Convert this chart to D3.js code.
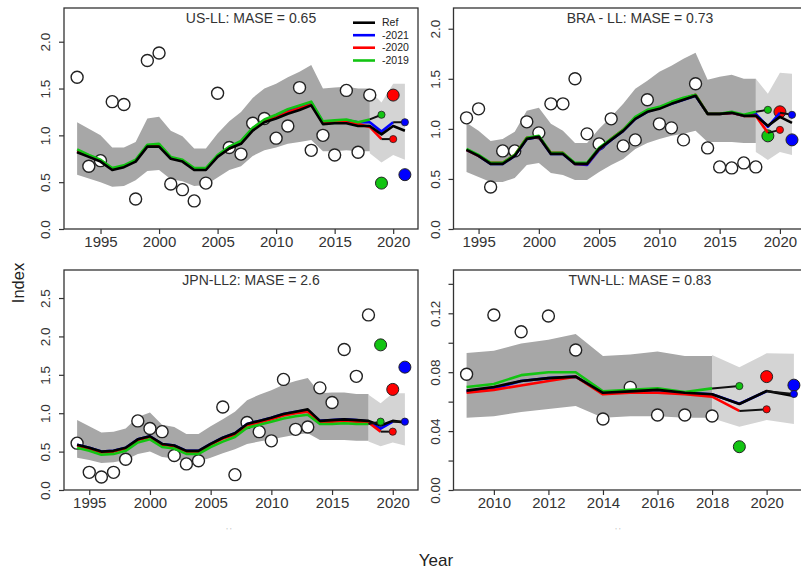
<!DOCTYPE html>
<html><head><meta charset="utf-8">
<script src="https://cdn.jsdelivr.net/npm/d3@7"></script>
<style>
body{margin:0;background:#fff}
svg{display:block}
text{font-family:"Liberation Sans",Arial,Helvetica,sans-serif;fill:#333}
</style>
</head><body>
<svg id="c" width="801" height="571"></svg>
<script>
// ---------------- DATA ----------------
const legendLabels = ["Ref", "-2021", "-2020", "-2019"];

// US-LL
const usTitle = "US-LL: MASE = 0.65";
const usYears = [1993,1994,1995,1996,1997,1998,1999,2000,2001,2002,2003,2004,2005,2006,2007,2008,2009,2010,2011,2012,2013,2014,2015,2016,2017,2018,2019,2020,2021];
const usObs   = [1.62,0.67,0.73,1.36,1.33,0.32,1.80,1.88,0.48,0.42,0.30,0.49,1.45,0.87,0.80,1.13,1.18,0.97,1.10,1.51,0.84,1.00,0.79,1.48,0.82,1.43,0.49,1.43,0.58];
const usRef   = [0.82,0.77,0.72,0.63,0.66,0.72,0.88,0.88,0.75,0.72,0.63,0.63,0.77,0.86,0.91,1.05,1.14,1.18,1.23,1.27,1.32,1.12,1.13,1.13,1.10,1.10,1.01,1.10,1.05];
const usP2021 = [0.83,0.78,0.73,0.64,0.67,0.73,0.89,0.90,0.76,0.73,0.64,0.64,0.78,0.87,0.93,1.07,1.16,1.21,1.26,1.30,1.35,1.14,1.15,1.16,1.14,1.14,1.04,1.14];
const usP2020 = [0.83,0.78,0.73,0.64,0.67,0.73,0.89,0.90,0.76,0.73,0.64,0.64,0.78,0.86,0.92,1.06,1.15,1.19,1.25,1.29,1.33,1.13,1.14,1.14,1.12,1.09,0.96];
const usP2019 = [0.85,0.79,0.74,0.65,0.68,0.74,0.90,0.91,0.77,0.74,0.65,0.65,0.79,0.88,0.94,1.08,1.17,1.22,1.28,1.32,1.36,1.15,1.16,1.17,1.14,1.17];
const usPred  = [1.14,0.96,1.22]; // predictions for 2021, 2020, 2019
const usHi    = [1.14,1.07,1.00,0.87,0.87,0.93,1.18,1.20,1.05,0.99,0.86,0.86,1.02,1.15,1.25,1.40,1.50,1.55,1.62,1.68,1.75,1.50,1.51,1.52,1.50,1.50];
const usLo    = [0.58,0.54,0.50,0.45,0.46,0.52,0.62,0.63,0.53,0.51,0.46,0.47,0.55,0.63,0.67,0.78,0.84,0.87,0.91,0.93,0.95,0.83,0.83,0.84,0.83,0.83];
const usHiL   = [1.48,1.35,1.55,1.55];
const usLoL   = [0.81,0.71,0.79,0.74];
const usYTicks = [0.0,0.5,1.0,1.5,2.0];

// BRA - LL
const braTitle = "BRA - LL: MASE = 0.73";
const braYears = [1994,1995,1996,1997,1998,1999,2000,2001,2002,2003,2004,2005,2006,2007,2008,2009,2010,2011,2012,2013,2014,2015,2016,2017,2018,2019,2020,2021];
const braObs   = [1.11,1.20,0.42,0.78,0.78,1.07,0.96,1.25,1.25,1.50,0.95,0.85,1.10,0.83,0.89,1.29,1.05,1.01,0.89,1.45,0.81,0.62,0.61,0.66,0.62,0.93,1.17,0.89];
const braRef   = [0.79,0.73,0.65,0.65,0.73,0.90,0.92,0.75,0.75,0.65,0.65,0.80,0.89,0.98,1.10,1.17,1.20,1.25,1.29,1.33,1.15,1.15,1.16,1.13,1.13,1.03,1.12,1.06];
const braP2021 = [0.79,0.73,0.65,0.65,0.73,0.90,0.92,0.75,0.75,0.65,0.64,0.79,0.89,0.98,1.10,1.17,1.21,1.25,1.29,1.33,1.15,1.15,1.16,1.13,1.15,1.02,1.16];
const braP2020 = [0.79,0.73,0.66,0.66,0.74,0.91,0.92,0.76,0.76,0.65,0.65,0.80,0.90,0.99,1.11,1.18,1.21,1.26,1.30,1.34,1.15,1.15,1.16,1.13,1.13,0.96];
const braP2019 = [0.80,0.74,0.66,0.66,0.74,0.91,0.93,0.76,0.76,0.66,0.66,0.81,0.90,0.99,1.12,1.19,1.22,1.27,1.31,1.34,1.15,1.15,1.17,1.14,1.17];
const braPred  = [1.14,0.99,1.19];
const braHi    = [1.06,0.98,0.88,0.90,0.97,1.18,1.21,1.05,0.98,0.86,0.86,1.00,1.12,1.25,1.40,1.48,1.57,1.63,1.70,1.76,1.49,1.52,1.54,1.50,1.50];
const braLo    = [0.57,0.52,0.47,0.47,0.51,0.64,0.66,0.56,0.54,0.49,0.49,0.57,0.64,0.70,0.80,0.86,0.90,0.93,0.95,0.98,0.87,0.87,0.87,0.86,0.86];
const braHiL   = [1.50,1.35,1.56,1.55];
const braLoL   = [0.77,0.69,0.77,0.74];
const braYTicks = [0.0,0.5,1.0,1.5,2.0];

// JPN-LL2
const jpnTitle = "JPN-LL2: MASE = 2.6";
const jpnYears = [1994,1995,1996,1997,1998,1999,2000,2001,2002,2003,2004,2005,2006,2007,2008,2009,2010,2011,2012,2013,2014,2015,2016,2017,2018,2019,2020,2021];
const jpnObs   = [0.61,0.23,0.17,0.23,0.40,0.90,0.80,0.76,0.45,0.34,0.38,null,1.08,0.20,0.88,0.76,0.64,1.44,0.79,0.82,1.33,1.14,1.83,1.48,2.28,1.89,1.31,1.60];
const jpnRef   = [0.59,0.55,0.50,0.51,0.55,0.66,0.70,0.60,0.58,0.51,0.51,0.60,0.68,0.74,0.86,0.90,0.94,0.99,1.02,1.05,0.90,0.91,0.92,0.91,0.90,0.84,0.90,0.88];
const jpnP2021 = [0.59,0.55,0.50,0.51,0.55,0.66,0.70,0.60,0.58,0.51,0.51,0.60,0.68,0.74,0.86,0.90,0.94,0.99,1.02,1.04,0.90,0.91,0.92,0.91,0.89,0.80,0.89];
const jpnP2020 = [0.58,0.53,0.49,0.50,0.54,0.65,0.69,0.59,0.57,0.50,0.50,0.59,0.67,0.72,0.84,0.88,0.92,0.97,1.00,1.02,0.88,0.89,0.90,0.89,0.88,0.76];
const jpnP2019 = [0.55,0.51,0.46,0.47,0.51,0.62,0.66,0.56,0.54,0.47,0.47,0.56,0.63,0.69,0.81,0.85,0.89,0.93,0.96,0.98,0.86,0.86,0.87,0.86,0.86];
const jpnPred  = [0.89,0.76,0.89];
const jpnHi    = [0.91,0.83,0.75,0.76,0.80,0.95,1.01,0.85,0.82,0.73,0.73,0.83,0.92,1.02,1.17,1.24,1.30,1.37,1.42,1.46,1.26,1.27,1.27,1.25,1.25];
const jpnLo    = [0.42,0.39,0.35,0.36,0.39,0.47,0.50,0.43,0.41,0.37,0.37,0.42,0.48,0.53,0.60,0.63,0.66,0.69,0.72,0.74,0.65,0.65,0.65,0.64,0.64];
const jpnHiL   = [1.24,1.13,1.26,1.26];
const jpnLoL   = [0.63,0.57,0.62,0.58];
const jpnYTicks = [0.0,0.5,1.0,1.5,2.0,2.5];

// TWN-LL
const twnTitle = "TWN-LL: MASE = 0.83";
const twnYears = [2009,2010,2011,2012,2013,2014,2015,2016,2017,2018,2019,2020,2021];
const twnObs   = [0.0786,0.1188,0.1075,0.1182,0.0951,0.0482,0.0697,0.0509,0.0509,0.0503,0.0294,0.0770,0.0712];
const twnRef   = [0.0675,0.0700,0.0740,0.0760,0.0770,0.0660,0.0670,0.0680,0.0660,0.0650,0.0584,0.0672,0.0638];
const twnP2021 = [0.0670,0.0690,0.0740,0.0760,0.0770,0.0660,0.0670,0.0680,0.0660,0.0650,0.0586,0.0670];
const twnP2020 = [0.0660,0.0680,0.0710,0.0740,0.0770,0.0650,0.0660,0.0660,0.0650,0.0634,0.0537];
const twnP2019 = [0.0700,0.0720,0.0780,0.0800,0.0800,0.0670,0.0680,0.0690,0.0665,0.0690];
const twnPred  = [0.0652,0.0548,0.0706];
const twnHi    = [0.0930,0.0945,0.0995,0.1020,0.1060,0.0910,0.0920,0.0940,0.0910,0.0910];
const twnLo    = [0.0490,0.0500,0.0530,0.0550,0.0570,0.0490,0.0500,0.0500,0.0490,0.0490];
const twnHiL   = [0.0917,0.0833,0.0928,0.0925];
const twnLoL   = [0.0487,0.0430,0.0475,0.0448];
const twnYTicks = [0.00,0.02,0.04,0.06,0.08,0.10,0.12,0.14];
const twnYLabels = ["0.00","","0.04","","0.08","","0.12",""];

const xTicksLong = [1995,2000,2005,2010,2015,2020];
const xTicksTWN  = [2010,2012,2014,2016,2018,2020];

// ---------------- LAYOUT ----------------
const C = {blue:"#0000ff", red:"#ff0000", green:"#12c412", black:"#000", dark:"#a7a7a7", light:"#d4d4d4"};
const panels = [
  {title:usTitle, years:usYears, obs:usObs, ref:usRef, p:[usP2021,usP2020,usP2019], pred:usPred,
   hi:usHi, lo:usLo, hiL:usHiL, loL:usLoL, yt:usYTicks, yl:usYTicks.map(d=>d.toFixed(1)), xt:xTicksLong,
   box:{l:64,r:418,t:8,b:229}, ytop:2.36, titleX:251, legend:true},
  {title:braTitle, years:braYears, obs:braObs, ref:braRef, p:[braP2021,braP2020,braP2019], pred:braPred,
   hi:braHi, lo:braLo, hiL:braHiL, loL:braLoL, yt:braYTicks, yl:braYTicks.map(d=>d.toFixed(1)), xt:xTicksLong,
   box:{l:453.5,r:805,t:8,b:229}, ytop:2.207, titleX:640},
  {title:jpnTitle, years:jpnYears, obs:jpnObs, ref:jpnRef, p:[jpnP2021,jpnP2020,jpnP2019], pred:jpnPred,
   hi:jpnHi, lo:jpnLo, hiL:jpnHiL, loL:jpnLoL, yt:jpnYTicks, yl:jpnYTicks.map(d=>d.toFixed(1)), xt:xTicksLong,
   box:{l:64,r:418,t:270,b:490}, ytop:2.865, titleX:251, artifactX:229},
  {title:twnTitle, years:twnYears, obs:twnObs, ref:twnRef, p:[twnP2021,twnP2020,twnP2019], pred:twnPred,
   hi:twnHi, lo:twnLo, hiL:twnHiL, loL:twnLoL, yt:twnYTicks, yl:twnYLabels, xt:xTicksTWN,
   box:{l:453.5,r:807,t:270,b:490}, ytop:0.1494, titleX:640, artifactX:618}
];
const peelColors = [C.blue, C.red, C.green];
const obsColors = [C.green, C.red, C.blue]; // last three observations (2019, 2020, 2021)

const svg = d3.select("#c");

panels.forEach(P => {
  const b = P.box;
  const y0 = P.years[0], y1 = P.years[P.years.length-1];
  const pad = (y1 - y0) * 0.04;
  const x = d3.scaleLinear().domain([y0 - pad, y1 + pad]).range([b.l, b.r]);
  const y = d3.scaleLinear().domain([0, P.ytop]).range([b.b, b.t]);
  const g = svg.append("g");

  // clip to box
  const cid = "clip" + Math.round(b.l) + "_" + b.t;
  svg.append("clipPath").attr("id", cid).append("rect")
    .attr("x", b.l).attr("y", b.t).attr("width", b.r - b.l).attr("height", b.b - b.t);
  const pg = g.append("g").attr("clip-path", `url(#${cid})`);

  // bands
  const nD = P.hi.length;
  const dark = P.years.slice(0, nD).map((yr,i)=>({yr, hi:P.hi[i], lo:P.lo[i]}));
  const lightYears = P.years.slice(nD - 1);
  const light = lightYears.map((yr,i)=>({yr, hi:P.hiL[i], lo:P.loL[i]}));
  const area = d3.area().x(d=>x(d.yr)).y0(d=>y(d.lo)).y1(d=>y(d.hi));
  pg.append("path").datum(light).attr("d", area).attr("fill", C.light);
  pg.append("path").datum(dark).attr("d", area).attr("fill", C.dark);

  // observations
  const nObs = P.obs.length;
  P.years.forEach((yr,i) => {
    const v = P.obs[i];
    if (v === null) return;
    const k = i - (nObs - 3);
    pg.append("circle").attr("cx", x(yr)).attr("cy", y(v)).attr("r", 6)
      .attr("fill", k >= 0 ? obsColors[k] : "#fff")
      .attr("stroke", "#222").attr("stroke-width", k >= 0 ? 1 : 1.4);
  });

  // lines
  const line = d3.line().x(d=>x(d[0])).y(d=>y(d[1]));
  const series = (arr) => arr.map((v,i)=>[P.years[i], v]);
  [0,1,2].forEach(k => {
    pg.append("path").datum(series(P.p[k])).attr("d", line)
      .attr("fill","none").attr("stroke", peelColors[k]).attr("stroke-width", 2.6).attr("stroke-linejoin","round");
  });
  pg.append("path").datum(series(P.ref)).attr("d", line)
    .attr("fill","none").attr("stroke", C.black).attr("stroke-width", 2.6).attr("stroke-linejoin","round");

  // prediction segments and points
  [0,1,2].forEach(k => {
    const arr = P.p[k];
    const n = arr.length;
    const lastYr = P.years[n-1], nextYr = P.years[n];
    pg.append("line").attr("x1", x(lastYr)).attr("y1", y(arr[n-1]))
      .attr("x2", x(nextYr)).attr("y2", y(P.pred[k]))
      .attr("stroke", "#111").attr("stroke-width", 2);
  });
  [0,1,2].forEach(k => {
    const n = P.p[k].length;
    pg.append("circle").attr("cx", x(P.years[n])).attr("cy", y(P.pred[k])).attr("r", 3.6)
      .attr("fill", peelColors[k]).attr("stroke", "#222").attr("stroke-width", 0.8);
  });

  // box
  g.append("rect").attr("x", b.l).attr("y", b.t).attr("width", b.r - b.l).attr("height", b.b - b.t)
    .attr("fill","none").attr("stroke","#333").attr("stroke-width",1.3);

  // x axis
  const xa = g.append("g").attr("transform", `translate(0,${b.b})`)
    .call(d3.axisBottom(x).tickValues(P.xt).tickFormat(d3.format("d")).tickSize(5).tickSizeOuter(0));
  xa.select(".domain").remove();
  xa.selectAll("line").attr("stroke","#333").attr("stroke-width",1.2);
  xa.selectAll("text").attr("y", 18).attr("dy", null).style("font-size","15px").attr("fill","#333")
    .attr("font-family", "Liberation Sans, Arial, sans-serif");

  // y axis
  const ya = g.append("g").attr("transform", `translate(${b.l},0)`)
    .call(d3.axisLeft(y).tickValues(P.yt).tickFormat((d,i)=>P.yl[i]).tickSize(5).tickSizeOuter(0));
  ya.select(".domain").remove();
  ya.selectAll("line").attr("stroke","#333").attr("stroke-width",1.2);
  ya.selectAll("text").attr("transform","rotate(-90)").attr("x", 0).attr("y", -14).attr("dy", null)
    .attr("text-anchor","middle").style("font-size","13.5px").attr("fill","#333")
    .attr("font-family", "Liberation Sans, Arial, sans-serif");

  // title
  g.append("text").attr("x", P.titleX).attr("y", b.t + 14.5).attr("text-anchor","middle")
    .style("font-size","14px").text(P.title);

  // faint cut-off x-label fragment
  if (P.artifactX) {
    g.append("text").attr("x", P.artifactX).attr("y", b.b + 43).attr("text-anchor","middle")
      .style("font-size","8px").style("fill","#b8b8b8").text("' '");
  }

  // legend
  if (P.legend) {
    const lx1 = 353, lx2 = 375, ly = [22.7, 35.2, 47.7, 60.5];
    const cols = [C.black, C.blue, C.red, C.green];
    legendLabels.forEach((lab,i) => {
      g.append("line").attr("x1", lx1).attr("x2", lx2).attr("y1", ly[i]).attr("y2", ly[i])
        .attr("stroke", cols[i]).attr("stroke-width", 2.6);
      g.append("text").attr("x", 382).attr("y", ly[i]).attr("dy","0.35em")
        .style("font-size","10.5px").style("fill","#222").text(lab);
    });
  }
});

// axis titles
svg.append("text").attr("transform","translate(24,283) rotate(-90)").attr("text-anchor","middle")
  .style("font-size","16.5px").style("fill","#222").text("Index");
svg.append("text").attr("x", 436).attr("y", 566).attr("text-anchor","middle")
  .style("font-size","17px").style("fill","#222").text("Year");
</script>
</body></html>
